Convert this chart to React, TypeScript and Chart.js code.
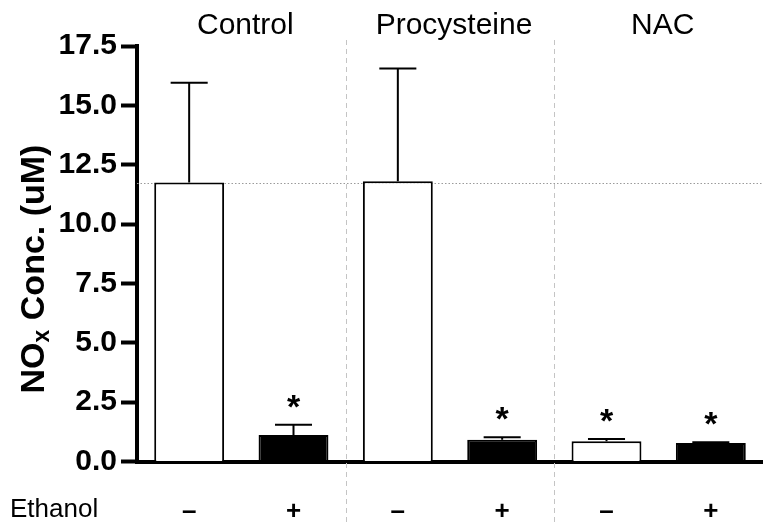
import React, { useEffect, useRef } from "react";
import { Chart, registerables } from "chart.js";

Chart.register(...registerables);

const FONT = "'Liberation Sans', Arial, Helvetica, sans-serif";

const groups = ["Control", "Procysteine", "NAC"];
const ethanolSigns = ["–", "+", "–", "+", "–", "+"];
const categories = ["Control –", "Control +", "Procysteine –", "Procysteine +", "NAC –", "NAC +"];
const means = [11.75, 1.12, 11.8, 0.92, 0.85, 0.78];
const sems = [4.2, 0.43, 4.75, 0.1, 0.1, 0.03];
const barFills = ["#ffffff", "#000000", "#ffffff", "#000000", "#ffffff", "#000000"];
const significant = [false, true, false, true, true, true];
const yTicks = [0, 2.5, 5, 7.5, 10, 12.5, 15, 17.5];
const referenceLevel = 11.75;
const yTitleMain = "NO";
const yTitleSub = "x";
const yTitleRest = " Conc. (uM)";
const xTitle = "Ethanol";

const annotations = {
  id: "annotations",
  beforeDatasetsDraw(chart: any) {
    const { ctx, chartArea, scales } = chart;
    const x = scales.x;
    const y = scales.y;
    ctx.save();
    ctx.strokeStyle = "#9a9a9a";
    ctx.lineWidth = 1;
    ctx.setLineDash([1.5, 2]);
    const ry = Math.round(y.getPixelForValue(referenceLevel)) + 0.5;
    ctx.beginPath();
    ctx.moveTo(chartArea.left, ry);
    ctx.lineTo(chart.width, ry);
    ctx.stroke();
    ctx.strokeStyle = "#c4c4c4";
    ctx.setLineDash([5, 4]);
    for (let g = 1; g < groups.length; g++) {
      const px = Math.round(x.getPixelForValue(g * 2 - 0.5)) + 0.5;
      ctx.beginPath();
      ctx.moveTo(px, 40);
      ctx.lineTo(px, 525);
      ctx.stroke();
    }
    ctx.restore();
  },
  afterDraw(chart: any) {
    const { ctx, scales } = chart;
    const x = scales.x;
    const y = scales.y;
    const meta = chart.getDatasetMeta(0);
    ctx.save();
    ctx.setLineDash([]);
    meta.data.forEach((bar: any, i: number) => {
      const top = y.getPixelForValue(means[i] + sems[i]);
      const base = y.getPixelForValue(means[i]);
      const half = bar.width * 0.265;
      ctx.strokeStyle = "#000";
      ctx.lineWidth = 2;
      ctx.beginPath();
      ctx.moveTo(bar.x, base);
      ctx.lineTo(bar.x, top);
      ctx.moveTo(bar.x - half, top);
      ctx.lineTo(bar.x + half, top);
      ctx.stroke();
      if (significant[i]) {
        ctx.fillStyle = "#000";
        ctx.font = `bold 34px ${FONT}`;
        ctx.textAlign = "center";
        ctx.textBaseline = "alphabetic";
        ctx.fillText("*", bar.x, top - 7);
      }
    });
    ctx.fillStyle = "#000";
    ctx.font = `30px ${FONT}`;
    ctx.textAlign = "center";
    ctx.textBaseline = "middle";
    groups.forEach((g, gi) => {
      const cx = x.getPixelForValue(gi * 2 + 0.5);
      ctx.fillText(g, cx + 4, 26);
    });
    ctx.font = `26px ${FONT}`;
    ctx.textAlign = "left";
    ctx.fillText(xTitle, 10, 510);
    ctx.translate(35, 269);
    ctx.rotate(-Math.PI / 2);
    const big = `bold 34px ${FONT}`;
    const small = `bold 23px ${FONT}`;
    ctx.font = big;
    const w1 = ctx.measureText(yTitleMain).width;
    const w3 = ctx.measureText(yTitleRest).width;
    ctx.font = small;
    const w2 = ctx.measureText(yTitleSub).width;
    let sx = -(w1 + w2 + w3) / 2;
    ctx.textAlign = "left";
    ctx.textBaseline = "middle";
    ctx.font = big;
    ctx.fillText(yTitleMain, sx, 0);
    sx += w1;
    ctx.font = small;
    ctx.fillText(yTitleSub, sx, 8);
    sx += w2;
    ctx.font = big;
    ctx.fillText(yTitleRest, sx, 0);
    ctx.restore();
  },
};

export default function App() {
  const ref = useRef<HTMLCanvasElement | null>(null);
  useEffect(() => {
    if (!ref.current) return;
    const chart = new Chart(ref.current, {
      type: "bar",
      data: {
        labels: categories,
        datasets: [
          {
            data: means,
            backgroundColor: barFills,
            borderColor: "#000",
            borderWidth: 2,
            barPercentage: 0.67,
            categoryPercentage: 1,
          },
        ],
      },
      options: {
        animation: false,
        responsive: false,
        maintainAspectRatio: false,
        layout: { padding: { top: 46, right: 0, left: 0, bottom: 0 } },
        plugins: { legend: { display: false }, tooltip: { enabled: false } },
        scales: {
          x: {
            type: "category",
            offset: true,
            grid: { display: false },
            border: { display: true, width: 4, color: "#000" },
            ticks: {
              callback: (_v: any, i: number) => ethanolSigns[i],
              font: { family: FONT, size: 26, weight: "bold" },
              color: "#000",
              padding: 27,
              maxRotation: 0,
              autoSkip: false,
            },
            afterFit: (s: any) => {
              s.height = 67.5;
            },
          },
          y: {
            min: 0,
            max: 17.5,
            afterBuildTicks: (s: any) => {
              s.ticks = yTicks.map((v) => ({ value: v }));
            },
            ticks: {
              callback: (v: any) => Number(v).toFixed(1),
              font: { family: FONT, size: 30, weight: "bold" },
              color: "#000",
              padding: 4,
            },
            grid: {
              drawOnChartArea: false,
              drawTicks: true,
              tickLength: 16,
              tickWidth: 4,
              color: "#000",
            },
            border: { display: true, width: 4, color: "#000" },
            afterFit: (s: any) => {
              s.width = 137;
            },
          },
        },
      },
      plugins: [annotations],
    } as any);
    return () => chart.destroy();
  }, []);
  return (
    <div style={{ position: "absolute", left: 0, top: 0, width: 763, height: 529 }}>
      <canvas ref={ref} width={763} height={529} style={{ display: "block" }} />
    </div>
  );
}
